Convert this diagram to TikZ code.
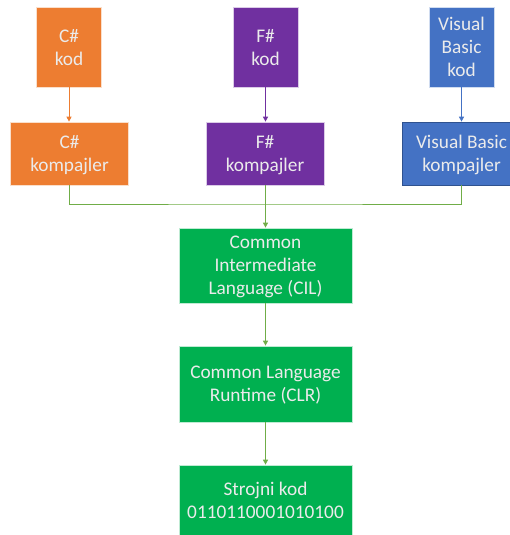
\documentclass[tikz,border=0pt]{standalone}
\usepackage{fontspec}
\setmainfont{Carlito}
\usetikzlibrary{
	arrows.meta,
	positioning
}
\definecolor{csOrange}{HTML}{ED7D31}
\definecolor{fsPurple}{HTML}{7030A0}
\definecolor{vbBlue}{HTML}{4472C4}
\definecolor{vbEdge}{HTML}{2F528F}
\definecolor{netGreen}{HTML}{00B050}
\definecolor{lineGreen}{HTML}{70AD47}
\tikzset{
	Box/.style={rectangle,draw=white!75!#1,line width=0.7pt,fill=#1,text=white!92!black,
		align=center,inner sep=0pt,font=\fontsize{19.3}{23}\selectfont,text depth=-5pt},
	Src/.style={Box=#1,minimum width=65pt,minimum height=80pt},
	Comp/.style={Box=#1,minimum width=118pt,minimum height=63pt},
	Net/.style={Box=netGreen,minimum width=173pt,minimum height=76pt},
	Flow/.style={-{Triangle[length=5pt,width=5pt]},line width=0.9pt,draw=#1}
}

\begin{document}
\begin{tikzpicture}[x=1pt,y=-1pt]
	\useasboundingbox (0,0) rectangle (509,535);
	% izvorni kod
	\node [Src=csOrange] (cs_kod) at (69,47) {C\#\\kod};
	\node [Src=fsPurple] (fs_kod) at (265.5,47) {F\#\\kod};
	\node [Src=vbBlue] (vb_kod) at (461.5,47) {Visual\\Basic\\kod};
	% kompajleri
	\node [Comp=csOrange] (cs_komp) at (69.5,153.5) {C\#\\kompajler};
	\node [Comp=fsPurple] (fs_komp) at (265,153.5) {F\#\\kompajler};
	\node [Comp=vbBlue,draw=vbEdge] (vb_komp) at (461.5,153.5) {Visual Basic\\kompajler};
	% .NET
	\node [Net,minimum height=75pt] (cil) at (265.5,265.5) {Common\\Intermediate\\Language (CIL)};
	\node [Net] (clr) at (265.5,384) {Common Language\\Runtime (CLR)};
	\node [Net,minimum height=70pt] (strojni) at (265.5,500) {Strojni kod\\0110110001010100};
	\coordinate (spoj) at (265.5,204);
	\draw [Flow=csOrange] (cs_kod) -- (cs_kod |- cs_komp.north);
	\draw [Flow=fsPurple] (fs_kod) -- (fs_kod |- fs_komp.north);
	\draw [Flow=vbBlue] (vb_kod) -- (vb_kod |- vb_komp.north);
	\draw [lineGreen,line width=0.9pt] (cs_komp.south) |- (spoj) -| (vb_komp.south);
	\draw [lineGreen,line width=0.9pt] (fs_komp.south -| spoj) -- (spoj);
	\draw [Flow=lineGreen] (spoj) -- (cil);
	\draw [Flow=lineGreen] (cil) -- (clr);
	\draw [Flow=lineGreen] (clr) -- (strojni);
\end{tikzpicture}
\end{document}
